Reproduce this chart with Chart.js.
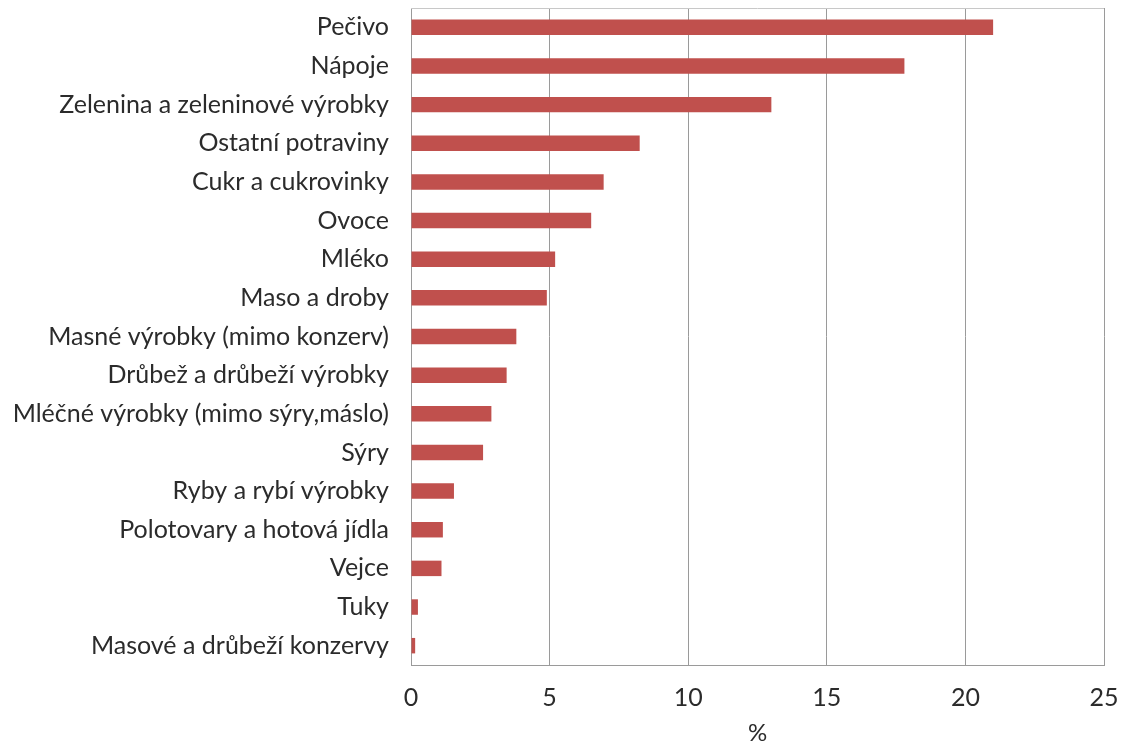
<!DOCTYPE html>
<html>
<head>
<meta charset="utf-8">
<script src="https://cdn.jsdelivr.net/npm/chart.js@4"></script>
<style>
html,body{margin:0;padding:0;background:#fff;}
#wrap{width:1123px;height:742px;position:relative;}
</style>
</head>
<body>
<div id="wrap"><canvas id="c" width="1123" height="742"></canvas></div>
<script>
const categories = [
  "Pečivo",
  "Nápoje",
  "Zelenina a zeleninové výrobky",
  "Ostatní potraviny",
  "Cukr a cukrovinky",
  "Ovoce",
  "Mléko",
  "Maso a droby",
  "Masné výrobky (mimo konzerv)",
  "Drůbež a drůbeží výrobky",
  "Mléčné výrobky (mimo sýry,máslo)",
  "Sýry",
  "Ryby a rybí výrobky",
  "Polotovary a hotová jídla",
  "Vejce",
  "Tuky",
  "Masové a drůbeží konzervy"
];
const values = [21.0, 17.8, 13.0, 8.25, 6.95, 6.5, 5.2, 4.9, 3.8, 3.45, 2.9, 2.6, 1.55, 1.15, 1.1, 0.25, 0.15];
const xTicks = [0, 5, 10, 15, 20, 25];
const xTitle = "%";

const FONT = "Lato, 'Open Sans', sans-serif";
const TXT = "#2b2b2b";
const FS = 25;

const frame = {
  id: 'frame',
  afterDraw(chart) {
    const a = chart.chartArea, ctx = chart.ctx;
    ctx.save();
    ctx.strokeStyle = '#c8c8c8';
    ctx.lineWidth = 1;
    ctx.beginPath();
    ctx.moveTo(a.left, a.top + 0.5);
    ctx.lineTo(a.right, a.top + 0.5);
    ctx.stroke();
    ctx.restore();
  }
};

new Chart(document.getElementById('c'), {
  type: 'bar',
  data: {
    labels: categories,
    datasets: [{
      data: values,
      backgroundColor: '#c0504d',
      borderWidth: 0,
      categoryPercentage: 1.0,
      barPercentage: 0.4
    }]
  },
  options: {
    indexAxis: 'y',
    responsive: false,
    animation: false,
    devicePixelRatio: 1,
    layout: { padding: { top: 8, right: 19, left: 0, bottom: 0 } },
    plugins: { legend: { display: false }, tooltip: { enabled: false } },
    scales: {
      x: {
        min: 0, max: 25,
        afterBuildTicks(scale) { scale.ticks = xTicks.map(v => ({ value: v })); },
        afterFit(scale) { scale.height = 742 - 665; scale.paddingLeft = 0; scale.paddingRight = 0; },
        grid: { color: '#9a9a9a', lineWidth: 1, drawTicks: false },
        border: { color: '#9a9a9a', width: 1 },
        ticks: { color: TXT, font: { family: FONT, size: FS }, padding: 18 },
        title: { display: true, text: xTitle, color: TXT, font: { family: FONT, size: 24 }, padding: { top: 0, bottom: -6 } }
      },
      y: {
        afterFit(scale) { scale.width = 411; scale.paddingTop = 0; scale.paddingBottom = 0; },
        grid: { display: false, drawTicks: false },
        border: { color: '#9a9a9a', width: 1 },
        ticks: { color: TXT, font: { family: FONT, size: FS }, padding: 22, autoSkip: false }
      }
    }
  },
  plugins: [frame]
});
</script>
</body>
</html>
